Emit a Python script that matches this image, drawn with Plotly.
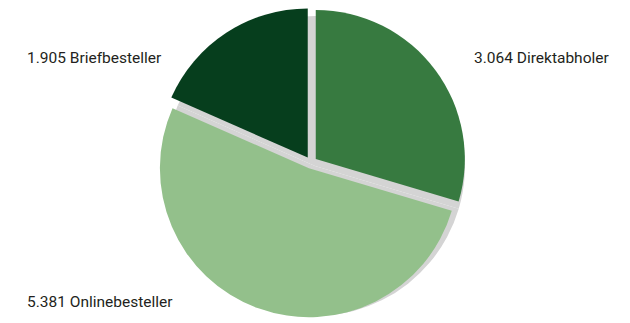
import plotly.graph_objects as go

categories = ["Direktabholer", "Onlinebesteller", "Briefbesteller"]
values = [3064, 5381, 1905]
colors = ["#377a40", "#93c08b", "#063e1d"]
pulls = [0.04, 0.04, 0.04]

# label anchor positions (paper coords) for each category
label_x = [472 / 630, 25 / 630, 25 / 630]
label_y = [1 - 58 / 323, 1 - 302 / 323, 1 - 58 / 323]


def fmt(v):
    return f"{v:,}".replace(",", ".")


fig = go.Figure()
# soft shadow behind the slices
fig.add_trace(go.Pie(
    labels=categories,
    values=values,
    marker=dict(colors=["#d4d4d4"] * len(values), line=dict(width=0)),
    sort=False,
    direction="clockwise",
    rotation=0,
    textinfo="none",
    hoverinfo="skip",
    showlegend=False,
    domain=dict(x=[165 / 630, 465 / 630], y=[7 / 323, 307 / 323]),
))
fig.add_trace(go.Pie(
    labels=categories,
    values=values,
    marker=dict(colors=colors, line=dict(width=0)),
    pull=pulls,
    sort=False,
    direction="clockwise",
    rotation=0,
    textinfo="none",
    hoverinfo="label+value",
    showlegend=False,
    domain=dict(x=[0.2476, 0.7397], y=[0.0167, 0.9765]),
))

for c, v, x, y in zip(categories, values, label_x, label_y):
    fig.add_annotation(
        x=x, y=y, xref="paper", yref="paper",
        xanchor="left", yanchor="middle",
        text=f"{fmt(v)} {c}", showarrow=False,
        font=dict(family="Roboto", size=15.5, color="#231f20"),
    )

fig.update_layout(
    width=630, height=323,
    margin=dict(l=0, r=0, t=0, b=0),
    paper_bgcolor="white", plot_bgcolor="white",
)

fig.write_html("out.html")
